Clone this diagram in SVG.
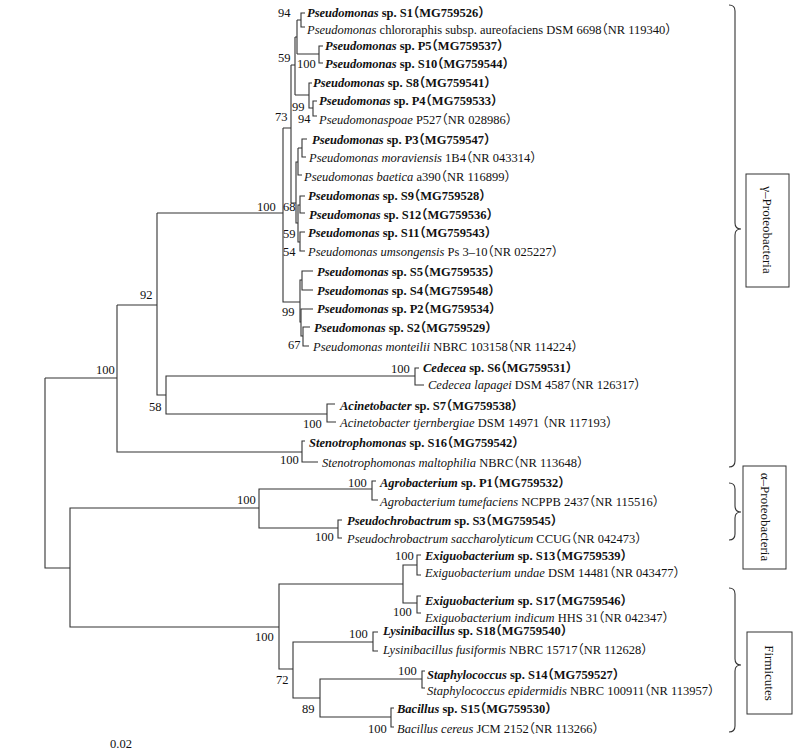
<svg xmlns="http://www.w3.org/2000/svg" width="811" height="750" viewBox="0 0 811 750">
<style>
.l{fill:none;stroke:#333;stroke-width:1.1}
.t{font-family:"Liberation Serif","Times New Roman","Noto Sans CJK SC",serif;font-size:12.5px;fill:#111;font-feature-settings:"halt" 1}
.b{font-weight:bold}
.i{font-style:italic}
.n{font-family:"Liberation Serif","Times New Roman",serif;font-size:12.5px;fill:#111}
.box{fill:#fff;stroke:#333;stroke-width:1}
.g{font-family:"Liberation Serif","Times New Roman",serif;font-size:13px;fill:#111;text-anchor:middle}
</style>
<rect width="811" height="750" fill="#fff"/>
<g id="connectors" class="l">
<path d="M305,13H301V27H305M297,20H301"/>
<path d="M323,46H319V63H323M297,54H319"/>
<path d="M297,20V54M295,37H297"/>
<path d="M312,83H309V108H313M295,95H309"/>
<path d="M317,101H313V116H317"/>
<path d="M295,37V95M291,65H295"/>
<path d="M291,65V203M283,128H291M291,203H296"/>
<path d="M307,139H302V157H306M298,148H302"/>
<path d="M298,148V175H302"/>
<path d="M305,196H300V213H305"/>
<path d="M305,232H300V251H305"/>
<path d="M300,205H298V242H300"/>
<path d="M298,162H296V223H298"/>
<path d="M283,128V302H300M157,213H283"/>
<path d="M302,280H300V322H301"/>
<path d="M313,271H302V290H313"/>
<path d="M313,309H301V336H303"/>
<path d="M310,327H303V346H309"/>
<path d="M157,213V395H166M117,305H157"/>
<path d="M415,376H166V414H327"/>
<path d="M419,368H415V385H424"/>
<path d="M335,404H327V422H336"/>
<path d="M117,305V452H302M45,378H117"/>
<path d="M305,441H302V462H318"/>
<path d="M45,378V568H70"/>
<path d="M259,508H70V627H279"/>
<path d="M372,489H259V528H338"/>
<path d="M376,481H372V500H378"/>
<path d="M342,520H338V538H342"/>
<path d="M403,584H279V669H293"/>
<path d="M417,565H403V603H417"/>
<path d="M421,555H417V575H421"/>
<path d="M421,596H417V613H421"/>
<path d="M373,642H293V698H320"/>
<path d="M378,632H373V651H378"/>
<path d="M422,679H320V717H391"/>
<path d="M425,671H422V688H425"/>
<path d="M394,708H391V727H394"/>
</g>
<g id="leaves">
<g id="S1"><text class="t b" x="307" y="17"><tspan class="i">Pseudomonas</tspan> sp. S1（MG759526）</text></g>
<g id="chlororaphis"><text class="t" x="307" y="34"><tspan class="i">Pseudomonas</tspan> chlororaphis subsp. aureofaciens DSM 6698（NR 119340）</text></g>
<g id="P5"><text class="t b" x="325" y="50"><tspan class="i">Pseudomonas</tspan> sp. P5（MG759537）</text></g>
<g id="S10"><text class="t b" x="325" y="68"><tspan class="i">Pseudomonas</tspan> sp. S10（MG759544）</text></g>
<g id="S8"><text class="t b" x="313" y="87"><tspan class="i">Pseudomonas</tspan> sp. S8（MG759541）</text></g>
<g id="P4"><text class="t b" x="319" y="105"><tspan class="i">Pseudomonas</tspan> sp. P4（MG759533）</text></g>
<g id="poae"><text class="t" x="319" y="124"><tspan class="i">Pseudomonaspoae</tspan> P527（NR 028986）</text></g>
<g id="P3"><text class="t b" x="312" y="144"><tspan class="i">Pseudomonas</tspan> sp. P3（MG759547）</text></g>
<g id="moraviensis"><text class="t" x="309" y="162"><tspan class="i">Pseudomonas moraviensis</tspan> 1B4（NR 043314）</text></g>
<g id="baetica"><text class="t" x="304" y="181"><tspan class="i">Pseudomonas baetica</tspan> a390（NR 116899）</text></g>
<g id="S9"><text class="t b" x="308" y="200"><tspan class="i">Pseudomonas</tspan> sp. S9（MG759528）</text></g>
<g id="S12"><text class="t b" x="309" y="219"><tspan class="i">Pseudomonas</tspan> sp. S12（MG759536）</text></g>
<g id="S11"><text class="t b" x="308" y="237"><tspan class="i">Pseudomonas</tspan> sp. S11（MG759543）</text></g>
<g id="umsongensis"><text class="t" x="308" y="256"><tspan class="i">Pseudomonas umsongensis</tspan> Ps 3–10（NR 025227）</text></g>
<g id="S5"><text class="t b" x="317" y="276"><tspan class="i">Pseudomonas</tspan> sp. S5（MG759535）</text></g>
<g id="S4"><text class="t b" x="317" y="295"><tspan class="i">Pseudomonas</tspan> sp. S4（MG759548）</text></g>
<g id="P2"><text class="t b" x="317" y="313"><tspan class="i">Pseudomonas</tspan> sp. P2（MG759534）</text></g>
<g id="S2"><text class="t b" x="314" y="332"><tspan class="i">Pseudomonas</tspan> sp. S2（MG759529）</text></g>
<g id="monteilii"><text class="t" x="313" y="351"><tspan class="i">Pseudomonas monteilii</tspan> NBRC 103158（NR 114224）</text></g>
<g id="S6"><text class="t b" x="423" y="372"><tspan class="i">Cedecea</tspan> sp. S6（MG759531）</text></g>
<g id="lapagei"><text class="t" x="428" y="389"><tspan class="i">Cedecea lapagei</tspan> DSM 4587（NR 126317）</text></g>
<g id="S7"><text class="t b" x="340" y="410"><tspan class="i">Acinetobacter</tspan> sp. S7（MG759538）</text></g>
<g id="tjernbergiae"><text class="t" x="340" y="427"><tspan class="i">Acinetobacter tjernbergiae</tspan> DSM 14971 （NR 117193）</text></g>
<g id="S16"><text class="t b" x="309" y="447"><tspan class="i">Stenotrophomonas</tspan> sp. S16（MG759542）</text></g>
<g id="maltophilia"><text class="t" x="322" y="467"><tspan class="i">Stenotrophomonas maltophilia</tspan> NBRC（NR 113648）</text></g>
<g id="P1"><text class="t b" x="380" y="487"><tspan class="i">Agrobacterium</tspan> sp. P1（MG759532）</text></g>
<g id="tumefaciens"><text class="t" x="380" y="506"><tspan class="i">Agrobacterium tumefaciens</tspan> NCPPB 2437（NR 115516）</text></g>
<g id="S3"><text class="t b" x="347" y="525"><tspan class="i">Pseudochrobactrum</tspan> sp. S3（MG759545）</text></g>
<g id="saccharolyticum"><text class="t" x="347" y="543"><tspan class="i">Pseudochrobactrum saccharolyticum</tspan> CCUG（NR 042473）</text></g>
<g id="S13"><text class="t b" x="425" y="560"><tspan class="i">Exiguobacterium</tspan> sp. S13（MG759539）</text></g>
<g id="undae"><text class="t" x="425" y="577"><tspan class="i">Exiguobacterium undae</tspan> DSM 14481（NR 043477）</text></g>
<g id="S17"><text class="t b" x="425" y="605"><tspan class="i">Exiguobacterium</tspan> sp. S17（MG759546）</text></g>
<g id="indicum"><text class="t" x="425" y="622"><tspan class="i">Exiguobacterium indicum</tspan> HHS 31（NR 042347）</text></g>
<g id="S18"><text class="t b" x="383" y="635"><tspan class="i">Lysinibacillus</tspan> sp. S18（MG759540）</text></g>
<g id="fusiformis"><text class="t" x="383" y="654"><tspan class="i">Lysinibacillus fusiformis</tspan> NBRC 15717（NR 112628）</text></g>
<g id="S14"><text class="t b" x="427" y="679"><tspan class="i">Staphylococcus</tspan> sp. S14（MG759527）</text></g>
<g id="epidermidis"><text class="t" x="427" y="695"><tspan class="i">Staphylococcus epidermidis</tspan> NBRC 100911（NR 113957）</text></g>
<g id="S15"><text class="t b" x="397" y="713"><tspan class="i">Bacillus</tspan> sp. S15（MG759530）</text></g>
<g id="cereus"><text class="t" x="397" y="733"><tspan class="i">Bacillus cereus</tspan> JCM 2152（NR 113266）</text></g>
</g>
<g id="bootstrap" class="n">
<text x="278" y="17">94</text>
<text x="278" y="62">59</text>
<text x="297" y="68">100</text>
<text x="292" y="111">99</text>
<text x="298" y="123">94</text>
<text x="275" y="121">73</text>
<text x="257" y="211">100</text>
<text x="283" y="211">68</text>
<text x="283" y="238">59</text>
<text x="283" y="256">54</text>
<text x="282" y="316">99</text>
<text x="288" y="349">67</text>
<text x="140" y="299">92</text>
<text x="96" y="374">100</text>
<text x="149" y="411">58</text>
<text x="391" y="373">100</text>
<text x="303" y="428">100</text>
<text x="280" y="464">100</text>
<text x="237" y="504">100</text>
<text x="348" y="487">100</text>
<text x="315" y="541">100</text>
<text x="395" y="560">100</text>
<text x="393" y="616">100</text>
<text x="255" y="641">100</text>
<text x="349" y="638">100</text>
<text x="276" y="684">72</text>
<text x="398" y="675">100</text>
<text x="302" y="713">89</text>
<text x="368" y="733">100</text>
<text x="110" y="748">0.02</text>
</g>
<g id="gamma-group">
<path class="l" d="M729,5Q735,5 735,11V223Q735,229 741,229Q735,229 735,235V461Q735,467 729,467"/>
<rect class="box" x="746" y="174" width="43" height="113"/>
<text class="g" transform="translate(767,230) rotate(90)" x="0" y="4.5">γ–Proteobacteria</text>
</g>
<g id="alpha-group">
<path class="l" d="M729,483Q735,483 735,489V506Q735,512 741,512Q735,512 735,518V534Q735,540 729,540"/>
<rect class="box" x="743" y="466" width="43" height="103"/>
<text class="g" transform="translate(765,517) rotate(90)" x="0" y="4.5">α–Proteobacteria</text>
</g>
<g id="firmicutes-group">
<path class="l" d="M729,588Q735,588 735,594V659Q735,665 741,665Q735,665 735,671V726Q735,732 729,732"/>
<rect class="box" x="747" y="632" width="45" height="82"/>
<text class="g" transform="translate(769,673) rotate(90)" x="0" y="4.5">Firmicutes</text>
</g>
</svg>
